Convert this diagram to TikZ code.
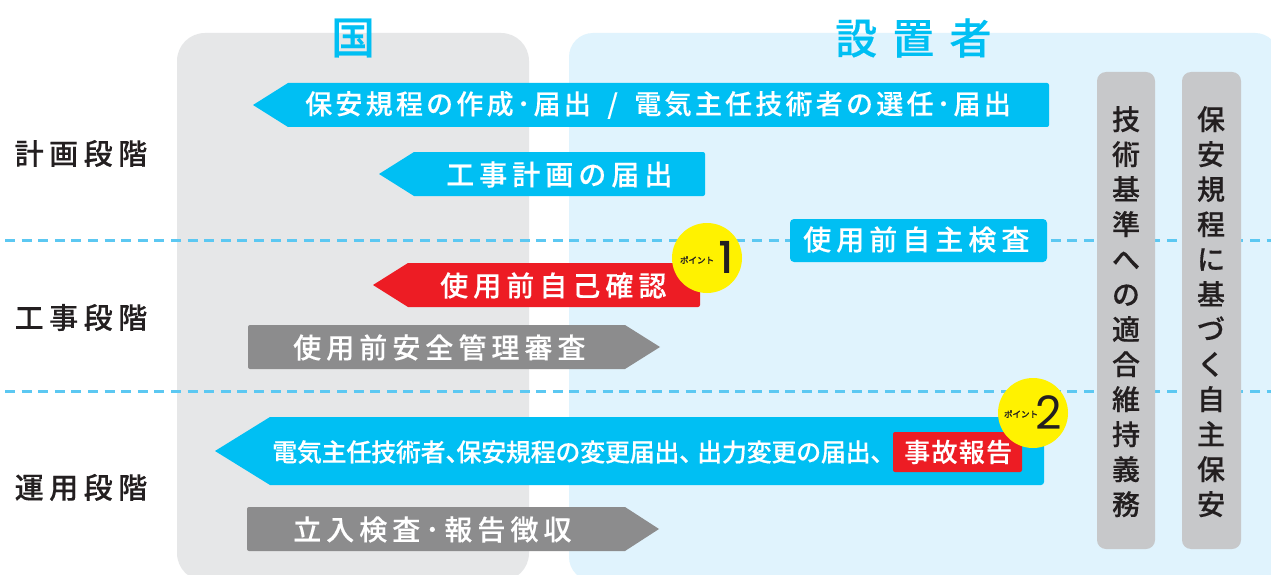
\documentclass[tikz,border=0pt]{standalone}
\usepackage{fontspec}
\setmainfont{Noto Sans CJK JP Medium}
\newfontfamily\numfont{Poppins Medium}
\newfontfamily\numlight{Poppins}
\definecolor{cyanb}{HTML}{00BFF3}
\definecolor{redb}{HTML}{ED1C24}
\definecolor{grayb}{HTML}{8C8C8D}
\definecolor{panelg}{HTML}{E6E7E8}
\definecolor{panelb}{HTML}{E0F3FD}
\definecolor{colg}{HTML}{C7C8CA}
\definecolor{ink}{HTML}{231F20}
\definecolor{dashc}{HTML}{5CC8F2}
\definecolor{yel}{HTML}{FFF200}
\newcommand{\fs}[2]{\fontsize{#1}{#1}\selectfont\addfontfeature{LetterSpace=#2,FakeBold=0.25}}
\tikzset{
 x=1pt,y=-1pt,
 arrowshape/.style={rounded corners=2pt},
 whitelabel/.style={text=white,inner sep=0pt,anchor=west},
 inklabel/.style={text=ink,inner sep=0pt,anchor=west},
 vertlabel/.style={text=ink,font=\fontsize{28}{35}\selectfont\addfontfeature{FakeBold=0.25},inner sep=0pt,align=center,anchor=north},
 pointlabel/.style={text=ink,font=\fontsize{8.5}{8.5}\selectfont\addfontfeature{FakeBold=0.4},inner sep=0pt},
 pointnum/.style={text=ink,font=\numfont\fontsize{44}{44}\selectfont,inner sep=0pt},
 pointnumlight/.style={text=ink,font=\numlight\fontsize{46}{46}\selectfont,inner sep=0pt},
 sepline/.style={dashc,line width=3pt,dash pattern=on 10pt off 6.6pt},
}
\begin{document}
\begin{tikzpicture}
\useasboundingbox (0,0) rectangle (1271,575);
\fill[white] (0,0) rectangle (1271,575);
\begin{scope}
\clip (0,0) rectangle (1271,575);
\fill[panelg,rounded corners=28pt] (177,33) rectangle (529,581);
\fill[panelb,rounded corners=24pt] (569,33) rectangle (1279,581);
\end{scope}
\coordinate (s1a) at (5,240); \coordinate (s1b) at (1271,240);
\coordinate (s2a) at (5,391); \coordinate (s2b) at (1271,391);
\draw[sepline] (s1a) -- (s1b);
\draw[sepline] (s2a) -- (s2b);
\node[inner sep=0pt,text=cyanb,font=\fontsize{44}{44}\selectfont\addfontfeature{FakeBold=0.4}] (tkuni) at (353,38) {国};
\node[inner sep=0pt,anchor=west,text=cyanb] (tsetti) at (835,38) {\fs{42}{36}設置者};
\node[inklabel] (p1) at (14.5,153.5) {\fs{29}{19}計画段階};
\node[inklabel] (p2) at (14.5,317.5) {\fs{29}{19}工事段階};
\node[inklabel] (p3) at (14.5,487.5) {\fs{29}{19}運用段階};
\fill[colg,rounded corners=9pt] (1097,72) rectangle (1155,549);
\fill[colg,rounded corners=9pt] (1182,72) rectangle (1241,549);
\node[vertlabel] (c1) at (1126,106) {技\\術\\基\\準\\へ\\の\\適\\合\\維\\持\\義\\務};
\node[vertlabel] (c2) at (1211,106) {保\\安\\規\\程\\に\\基\\づ\\く\\自\\主\\保\\安};
\fill[cyanb,arrowshape] (253,105) [sharp corners] -- (288,83) [rounded corners=2pt] -- (1049,83) -- (1049,127) [sharp corners] -- (288,127) -- cycle;
\node[whitelabel] (a1) at (305,105) {\fs{27}{12}保安規程の作成･届出\hspace{16.5pt}/\hspace{16.5pt}電気主任技術者の選任･届出};
\fill[cyanb,arrowshape] (379,174) [sharp corners] -- (414,152) [rounded corners=2pt] -- (705,152) -- (705,196) [sharp corners] -- (414,196) -- cycle;
\node[whitelabel] (a2) at (446,174.5) {\fs{28}{18}工事計画の届出};
\fill[cyanb,rounded corners=4pt] (790,219) rectangle (1047,262);
\node[whitelabel] (a3) at (803,239.5) {\fs{28}{18}使用前自主検査};
\fill[redb,arrowshape] (373,285) [sharp corners] -- (408,263) [rounded corners=2pt] -- (700,263) -- (700,307) [sharp corners] -- (408,307) -- cycle;
\node[whitelabel] (a4) at (440,285.5) {\fs{28}{18}使用前自己確認};
\fill[grayb,rounded corners=2pt] (248,325) [sharp corners] -- (625,325) -- (660,347) -- (625,369) [rounded corners=2pt] -- (248,369) -- cycle;
\node[whitelabel] (a5) at (293,347.5) {\fs{28}{18}使用前安全管理審査};
\fill[cyanb,arrowshape] (215,451) [sharp corners] -- (270,417) [rounded corners=3pt] -- (1044,417) -- (1044,485) [sharp corners] -- (270,485) -- cycle;
\node[whitelabel] (a6) at (272,452) {\fs{25}{-1}電気主任技術者、\hspace{-14pt}保安規程の変更届出、\hspace{-7pt}出力変更の届出、};
\fill[redb,rounded corners=2pt] (893,432) rectangle (1022,472);
\node[whitelabel] (a7) at (904,452) {\fs{26}{5}事故報告};
\fill[grayb,rounded corners=2pt] (247,507) [sharp corners] -- (625,507) -- (659,529) -- (625,551) [rounded corners=2pt] -- (247,551) -- cycle;
\node[whitelabel] (a8) at (293,529.5) {\fs{28}{18}立入検査･報告徴収};
\fill[yel] (707,258) circle (35);
\node[pointlabel] (k1) at (697,260) {ポイント};
\node[pointnum] (n1) at (726,257) {1};
\fill[yel] (1033,413) circle (35);
\node[pointlabel] (k2) at (1021,414) {ポイント};
\node[pointnumlight] (n2) at (1049,413) {2};
\end{tikzpicture}
\end{document}
